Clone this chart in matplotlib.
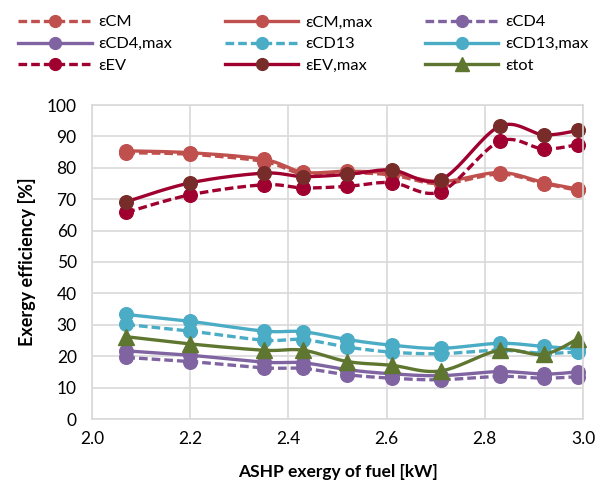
import numpy as np
import matplotlib
matplotlib.use("Agg")
import matplotlib.pyplot as plt
from matplotlib.lines import Line2D

plt.rcParams['font.family'] = ['Lato', 'DejaVu Sans']

# ---- data ----
x = [2.07, 2.20, 2.35, 2.43, 2.52, 2.61, 2.71, 2.83, 2.92, 2.99]
eps_CM = [84.8, 84.3, 82.0, 78.0, 78.4, 77.7, 74.9, 78.0, 75.0, 72.8]
eps_CM_max = [85.4, 84.8, 82.7, 78.6, 78.9, 78.3, 75.6, 78.5, 75.3, 73.2]
eps_CD4 = [19.6, 18.3, 16.3, 16.1, 14.1, 13.0, 12.5, 13.6, 13.0, 13.5]
eps_CD4_max = [21.7, 20.3, 18.1, 17.9, 15.7, 14.4, 13.8, 15.1, 14.3, 15.0]
eps_CD13 = [30.1, 28.0, 25.1, 25.3, 22.9, 21.3, 20.8, 21.9, 20.9, 21.4]
eps_CD13_max = [33.3, 31.1, 28.0, 27.8, 25.3, 23.5, 22.5, 24.1, 23.1, 22.3]
eps_EV = [65.8, 71.4, 74.6, 73.6, 74.1, 75.3, 72.4, 88.4, 86.0, 87.4]
eps_EV_max = [69.2, 75.2, 78.3, 77.2, 77.9, 79.3, 76.2, 93.2, 90.5, 91.9]
eps_tot = [26.2, 23.9, 21.9, 21.9, 18.3, 17.1, 15.3, 21.9, 20.6, 25.6]

labels = ['εCM', 'εCM,max', 'εCD4', 'εCD4,max', 'εCD13', 'εCD13,max',
          'εEV', 'εEV,max', 'εtot']
x_ticks = [2.0, 2.2, 2.4, 2.6, 2.8, 3.0]
y_ticks = [0, 10, 20, 30, 40, 50, 60, 70, 80, 90, 100]

RED = '#C0504D'
PURPLE = '#8064A2'
AQUA = '#4BACC6'
EVC = '#A0002F'
EVM = '#772C2A'
GREEN = '#5F7630'

DASH = (0, (2.6, 1.2))
styles = [
    (eps_CM, RED, RED, DASH, 'o'),
    (eps_CM_max, RED, RED, '-', 'o'),
    (eps_CD4, PURPLE, PURPLE, DASH, 'o'),
    (eps_CD4_max, PURPLE, PURPLE, '-', 'o'),
    (eps_CD13, AQUA, AQUA, DASH, 'o'),
    (eps_CD13_max, AQUA, AQUA, '-', 'o'),
    (eps_EV, EVC, EVC, DASH, 'o'),
    (eps_EV_max, EVC, EVM, '-', 'o'),
    (eps_tot, GREEN, GREEN, '-', '^'),
]


def smooth(xs, ys, n=24):
    P = np.column_stack([xs, ys]).astype(float)
    m = len(P)
    out = [P[0]]
    t = np.linspace(0, 1, n)[1:]
    for i in range(m - 1):
        p0 = P[i - 1] if i > 0 else P[i]
        p1 = P[i]
        p2 = P[i + 1]
        p3 = P[i + 2] if i + 2 < m else P[i + 1]
        b1 = p1 + (p2 - p0) / 6.0
        b2 = p2 - (p3 - p1) / 6.0
        tt = t[:, None]
        seg = ((1 - tt) ** 3) * p1 + 3 * ((1 - tt) ** 2) * tt * b1 \
            + 3 * (1 - tt) * tt ** 2 * b2 + tt ** 3 * p2
        out.extend(seg)
    out = np.array(out)
    return out[:, 0], out[:, 1]


fig = plt.figure(figsize=(6.06, 4.94), dpi=100)
ax = fig.add_axes([92 / 606, 1 - 419 / 494, (583 - 92) / 606, (419 - 105) / 494])

LW = 2.4
MS = 9.8
handles = []
for ys, lc, mc, ls, mk in styles:
    sx, sy = smooth(x, ys)
    ax.plot(sx, sy, color=lc, lw=LW, ls=ls, solid_capstyle='round',
            dash_capstyle='butt', clip_on=False)
    ax.plot(x, ys, ls='none', marker=mk, ms=MS + (1.2 if mk == '^' else 0),
            mfc=mc, mec=mc, clip_on=False)
    handles.append(Line2D([0], [0], color=lc, lw=LW, ls=ls, marker=mk,
                          ms=8.5 + (1.2 if mk == '^' else 0), mfc=mc, mec=mc))

ax.set_xlim(2.0, 3.0)
ax.set_ylim(0, 100)
ax.set_xticks(x_ticks)
ax.set_xticklabels([f'{v:.1f}' for v in x_ticks])
ax.set_yticks(y_ticks)
ax.grid(True, color='#D9D9D9', lw=1.2)
ax.set_axisbelow(True)
for s in ax.spines.values():
    s.set_color('#D9D9D9')
    s.set_linewidth(1.2)
ax.tick_params(axis='y', length=0, labelsize=12.5, pad=11, colors='black')
ax.tick_params(axis='x', length=0, labelsize=12.5, pad=9, colors='black')
ax.set_xlabel('ASHP exergy of fuel [kW]', fontsize=12.5, fontweight='bold',
              labelpad=12)
ax.set_ylabel('Exergy efficiency [%]', fontsize=13, fontweight='bold',
              labelpad=8)

order = [0, 3, 6, 1, 4, 7, 2, 5, 8]
fig.legend([handles[i] for i in order], [labels[i] for i in order],
           ncol=3, loc='upper left', bbox_to_anchor=(18 / 606, 1 - 15 / 494),
           frameon=False, fontsize=11.8, handlelength=4.5, handletextpad=0.4,
           columnspacing=3.2, labelspacing=0.45, borderpad=0, borderaxespad=0)

fig.savefig('out.png', dpi=100)
